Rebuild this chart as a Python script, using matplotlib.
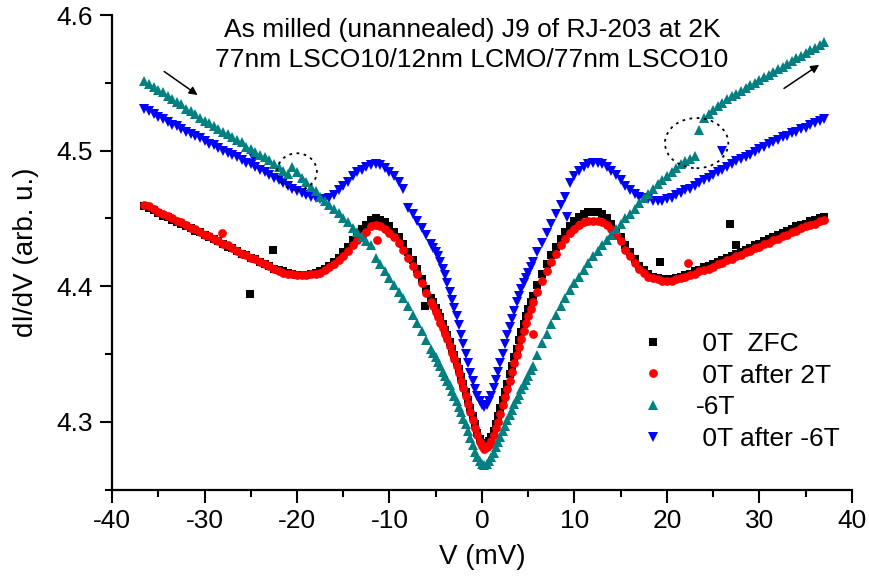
import numpy as np
import matplotlib
matplotlib.use("Agg")
import matplotlib.pyplot as plt
from matplotlib.patches import Ellipse

plt.rcParams['font.family'] = ['Liberation Sans', 'DejaVu Sans']
plt.rcParams['axes.unicode_minus'] = False

# Bias voltage grid (mV) shared by all four sweeps
V = np.r_[np.arange(-36.5, -5.25, 0.5),
          np.arange(-5.25, 5.30, 0.25),
          np.arange(5.5, 37.25, 0.5)]

g_zfc = [4.459, 4.458, 4.456, 4.454, 4.452, 4.451, 4.449, 4.447, 4.446, 4.444,
         4.443, 4.441, 4.440, 4.438, 4.436, 4.435, 4.433, 4.431, 4.429, 4.428,
         4.426, 4.424, 4.423, 4.421, 4.420, 4.418, 4.416, 4.415, 4.413, 4.412,
         4.411, 4.410, 4.409, 4.408, 4.408, 4.408, 4.409, 4.410, 4.411, 4.413,
         4.415, 4.418, 4.421, 4.425, 4.429, 4.434, 4.438, 4.442, 4.445,
         4.449, 4.450, 4.449, 4.447, 4.444, 4.440, 4.436, 4.431, 4.425, 4.419, 4.413, 4.405, 4.398, 4.391,
         4.388, 4.384, 4.380, 4.377, 4.372, 4.368, 4.364, 4.359, 4.354, 4.349, 4.344, 4.339, 4.333,
         4.328, 4.322, 4.316, 4.310, 4.304, 4.298, 4.292, 4.287, 4.284, 4.283, 4.284, 4.286, 4.289,
         4.293, 4.298, 4.304, 4.310, 4.316, 4.322, 4.328, 4.335, 4.341, 4.348, 4.354, 4.360, 4.366,
         4.372, 4.378, 4.383, 4.388,
         4.393, 4.401, 4.409, 4.416, 4.423, 4.429, 4.435, 4.440, 4.444, 4.448, 4.451, 4.453, 4.455, 4.455,
         4.455, 4.453, 4.450, 4.446, 4.441, 4.436, 4.430, 4.425, 4.420, 4.415,
         4.412, 4.409, 4.407, 4.406, 4.405, 4.405, 4.405, 4.406, 4.407, 4.408,
         4.409, 4.411, 4.412, 4.414, 4.415, 4.416, 4.418, 4.419, 4.421, 4.422,
         4.424, 4.425, 4.427, 4.428, 4.430, 4.431, 4.433, 4.435, 4.436, 4.438,
         4.439, 4.441, 4.442, 4.444, 4.445, 4.446, 4.448, 4.449, 4.450, 4.451]

g_2t = [4.460, 4.459, 4.457, 4.455, 4.453, 4.452, 4.450, 4.448, 4.447, 4.445,
        4.443, 4.442, 4.440, 4.438, 4.437, 4.435, 4.433, 4.431, 4.430, 4.428,
        4.426, 4.424, 4.423, 4.421, 4.420, 4.418, 4.416, 4.415, 4.413, 4.411,
        4.410, 4.409, 4.409, 4.408, 4.408, 4.408, 4.409, 4.409, 4.410, 4.412,
        4.414, 4.416, 4.419, 4.422, 4.426, 4.430, 4.434, 4.437, 4.440,
        4.444, 4.445, 4.444, 4.442, 4.439, 4.436, 4.432, 4.427, 4.421, 4.415, 4.409, 4.402, 4.395, 4.388,
        4.385, 4.381, 4.377, 4.373, 4.369, 4.365, 4.361, 4.356, 4.351, 4.346, 4.341, 4.336, 4.330,
        4.325, 4.319, 4.313, 4.307, 4.301, 4.295, 4.290, 4.285, 4.282, 4.280, 4.281, 4.283, 4.286,
        4.290, 4.295, 4.300, 4.306, 4.312, 4.318, 4.324, 4.330, 4.337, 4.343, 4.349, 4.355, 4.361,
        4.367, 4.373, 4.378, 4.383,
        4.388, 4.396, 4.404, 4.411, 4.418, 4.424, 4.430, 4.435, 4.439, 4.442, 4.445, 4.447, 4.448, 4.448,
        4.448, 4.447, 4.445, 4.442, 4.438, 4.433, 4.427, 4.422, 4.417, 4.413,
        4.410, 4.407, 4.406, 4.405, 4.404, 4.404, 4.404, 4.405, 4.406, 4.407,
        4.408, 4.409, 4.411, 4.412, 4.413, 4.414, 4.416, 4.417, 4.419, 4.420,
        4.422, 4.423, 4.425, 4.426, 4.428, 4.429, 4.431, 4.432, 4.434, 4.435,
        4.437, 4.438, 4.440, 4.441, 4.443, 4.444, 4.445, 4.446, 4.448, 4.449]

g_m6t = [4.551, 4.549, 4.547, 4.545, 4.543, 4.540, 4.538, 4.536, 4.534, 4.531,
         4.529, 4.527, 4.524, 4.522, 4.520, 4.518, 4.516, 4.514, 4.512, 4.510,
         4.508, 4.506, 4.503, 4.501, 4.499, 4.497, 4.495, 4.493, 4.490, 4.488,
         4.485, 4.483, 4.488, 4.484, 4.480, 4.477, 4.473, 4.470, 4.466, 4.463,
         4.460, 4.457, 4.454, 4.450, 4.447, 4.443, 4.440, 4.436, 4.433,
         4.430, 4.421, 4.416, 4.411, 4.406, 4.401, 4.396, 4.391, 4.385, 4.379, 4.373, 4.367, 4.360, 4.354,
         4.351, 4.348, 4.344, 4.341, 4.337, 4.334, 4.330, 4.327, 4.323, 4.319, 4.315, 4.311, 4.307,
         4.302, 4.298, 4.293, 4.288, 4.283, 4.278, 4.274, 4.271, 4.269, 4.268, 4.269, 4.271, 4.274,
         4.277, 4.281, 4.285, 4.289, 4.293, 4.297, 4.301, 4.305, 4.309, 4.313, 4.317, 4.320, 4.324,
         4.327, 4.331, 4.334, 4.338,
         4.341, 4.349, 4.358, 4.365, 4.372, 4.379, 4.385, 4.391, 4.397, 4.402, 4.407, 4.412, 4.417, 4.422,
         4.426, 4.430, 4.434, 4.438, 4.442, 4.446, 4.450, 4.453, 4.457, 4.461,
         4.465, 4.468, 4.472, 4.475, 4.478, 4.481, 4.484, 4.487, 4.490, 4.492,
         4.494, 4.496, 4.515, 4.524, 4.527, 4.530, 4.533, 4.535, 4.538, 4.540,
         4.542, 4.544, 4.546, 4.548, 4.550, 4.552, 4.554, 4.556, 4.558, 4.560,
         4.562, 4.564, 4.566, 4.568, 4.570, 4.572, 4.574, 4.576, 4.578, 4.580]

g_after6 = [4.531, 4.529, 4.527, 4.525, 4.523, 4.521, 4.519, 4.518, 4.516, 4.514,
            4.512, 4.511, 4.509, 4.507, 4.505, 4.504, 4.502, 4.500, 4.498, 4.497,
            4.495, 4.493, 4.491, 4.490, 4.488, 4.486, 4.484, 4.482, 4.480, 4.478,
            4.476, 4.474, 4.472, 4.470, 4.469, 4.467, 4.466, 4.465, 4.464, 4.464,
            4.465, 4.467, 4.471, 4.474, 4.477, 4.481, 4.484, 4.486, 4.488,
            4.489, 4.490, 4.489, 4.487, 4.484, 4.481, 4.477, 4.472, 4.458, 4.453, 4.448, 4.443, 4.438, 4.431,
            4.428, 4.425, 4.422, 4.418, 4.413, 4.408, 4.402, 4.396, 4.390, 4.384, 4.378, 4.371, 4.364,
            4.357, 4.350, 4.343, 4.336, 4.330, 4.324, 4.319, 4.315, 4.312, 4.311, 4.312, 4.315, 4.319,
            4.325, 4.331, 4.337, 4.343, 4.350, 4.357, 4.364, 4.370, 4.376, 4.382, 4.388, 4.393, 4.398,
            4.402, 4.406, 4.410, 4.414,
            4.418, 4.425, 4.432, 4.439, 4.446, 4.453, 4.460, 4.466, 4.476, 4.481, 4.485, 4.488, 4.490, 4.491,
            4.491, 4.490, 4.488, 4.485, 4.482, 4.478, 4.474, 4.471, 4.468, 4.466,
            4.465, 4.464, 4.463, 4.463, 4.463, 4.464, 4.465, 4.467, 4.469, 4.471,
            4.472, 4.474, 4.476, 4.478, 4.480, 4.482, 4.484, 4.486, 4.488, 4.490,
            4.492, 4.494, 4.495, 4.497, 4.499, 4.501, 4.503, 4.505, 4.506, 4.508,
            4.510, 4.511, 4.513, 4.514, 4.516, 4.517, 4.519, 4.520, 4.522, 4.523]

# Isolated glitch points
zfc_spike_v = [-25.1, -22.6, -6.2, 19.2, 26.8, 27.5]
zfc_spike_g = [4.394, 4.427, 4.385, 4.418, 4.446, 4.430]
t2_spike_v = [-28.1, -11.4, 5.5, 22.3]
t2_spike_g = [4.439, 4.434, 4.365, 4.417]
a6_spike_v = [-24.7, 9.15, 25.9]
a6_spike_g = [4.494, 4.451, 4.500]

labels = [" 0T  ZFC", " 0T after 2T", "-6T", " 0T after -6T"]
title_lines = "As milled (unannealed) J9 of RJ-203 at 2K\n77nm LSCO10/12nm LCMO/77nm LSCO10"

for arr in (g_zfc, g_2t, g_m6t, g_after6):
    if len(arr) != len(V):
        raise SystemExit(f"length mismatch {len(arr)} vs {len(V)}")

fig = plt.figure(figsize=(8.7, 5.82), dpi=100)
ax = fig.add_axes([112 / 870, 1 - 489.5 / 582, 740 / 870, (489.5 - 15) / 582])

teal = "#008080"
h1, = ax.plot(np.r_[V, zfc_spike_v], np.r_[g_zfc, zfc_spike_g], ls="none", marker="s",
              ms=5.2, mew=0, color="black", zorder=2)
h2, = ax.plot(np.r_[V, t2_spike_v], np.r_[g_2t, t2_spike_g], ls="none", marker="o",
              ms=6.3, mew=0, color="red", zorder=3)
h4, = ax.plot(np.r_[V, a6_spike_v], np.r_[g_after6, a6_spike_g], ls="none", marker="v",
              ms=7.5, mew=0, color="blue", zorder=4)
h3, = ax.plot(V, g_m6t, ls="none", marker="^",
              ms=7.5, mew=0, color=teal, zorder=5)

ax.set_xlim(-40, 40)
ax.set_ylim(4.25, 4.6)
ax.set_xticks(np.arange(-40, 41, 10))
ax.set_xticks(np.arange(-35, 40, 10), minor=True)
ax.set_yticks([4.3, 4.4, 4.5, 4.6])
ax.set_yticks([4.25, 4.35, 4.45, 4.55], minor=True)
ax.set_yticklabels(["4.3", "4.4", "4.5", "4.6"])
for s in ("top", "right"):
    ax.spines[s].set_visible(False)
for s in ("left", "bottom"):
    ax.spines[s].set_linewidth(1.6)
ax.tick_params(which="major", direction="out", length=9, width=1.5, labelsize=19, pad=5)
ax.tick_params(which="minor", direction="out", length=5, width=1.5)
ax.set_xlabel("V (mV)", fontsize=20, labelpad=8)
ax.set_ylabel("dI/dV (arb. u.)", fontsize=20, labelpad=12)

fig.text(472 / 870, 1 - 45 / 582, title_lines, ha="center", va="center",
         fontsize=19, linespacing=1.3)

# dotted circles and sweep arrows
ax.add_patch(Ellipse((-20.0, 4.4845), 4.3, 0.027, fill=False, ls=(0, (1.5, 2.5)), lw=1.3, color="black", zorder=6))
ax.add_patch(Ellipse((23.2, 4.5055), 6.85, 0.037, fill=False, ls=(0, (1.5, 2.5)), lw=1.3, color="black", zorder=6))
ax.annotate("", xy=(-30.5, 4.5398), xytext=(-34.6, 4.5595),
            arrowprops=dict(arrowstyle="-|>", color="black", lw=1.1, mutation_scale=12))
ax.annotate("", xy=(36.7, 4.5644), xytext=(32.4, 4.5447),
            arrowprops=dict(arrowstyle="-|>", color="black", lw=1.1, mutation_scale=12))

leg = ax.legend([h1, h2, h3, h4], labels, loc="upper left",
                bbox_to_anchor=(640 / 870, 1 - 332 / 582), bbox_transform=fig.transFigure,
                frameon=False, fontsize=19, handlelength=1.0, handletextpad=1.1,
                labelspacing=0.29, borderpad=0, borderaxespad=0, markerscale=1.0)

fig.savefig("out.png", dpi=100)
